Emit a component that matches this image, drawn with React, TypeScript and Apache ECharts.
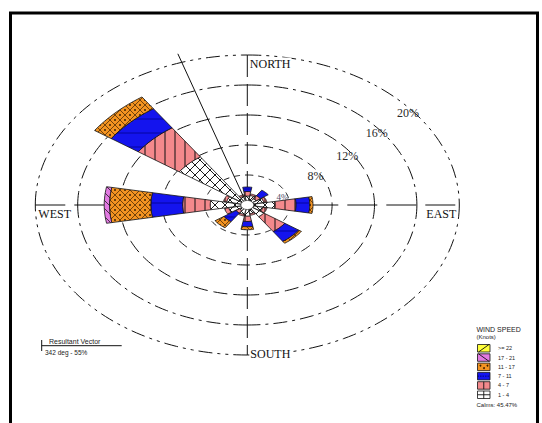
import React, { useEffect, useRef } from "react";
import * as echarts from "echarts";

// ---------- data ----------
const DIRECTIONS = ["N", "NNE", "NE", "ENE", "E", "ESE", "SE", "SSE", "S", "SSW", "SW", "WSW", "W", "WNW", "NW", "NNW"];
const SPEED_CLASSES = ["1 - 4", "4 - 7", "7 - 11", "11 - 17", "17 - 21", ">= 22"];
//                   N    NNE  NE   ENE  E    ESE  SE   SSE  S    SSW  SW   WSW  W    WNW  NW   NNW
const FREQ_1_4   = [1.2, 1.3, 1.0, 1.6, 2.6, 1.5, 1.9, 1.2, 1.5, 1.3, 0.9, 1.8, 3.5, 2.0, 7.8, 1.2];
const FREQ_4_7   = [0.6, 0.2, 0.5, 0.3, 2.0, 0.4, 2.4, 0.2, 0.7, 0.2, 0.4, 0.4, 2.6, 0.3, 4.7, 0.2];
const FREQ_7_11  = [0.6, 0.0, 0.9, 0.0, 1.3, 0.0, 1.6, 0.0, 0.7, 0.0, 1.4, 0.0, 3.0, 0.0, 3.1, 0.0];
const FREQ_11_17 = [0.0, 0.0, 0.0, 0.0, 0.3, 0.0, 0.3, 0.0, 0.4, 0.0, 1.0, 0.0, 3.9, 0.0, 1.9, 0.0];
const FREQ_17_21 = [0.0, 0.0, 0.0, 0.0, 0.0, 0.0, 0.0, 0.0, 0.0, 0.0, 0.0, 0.0, 0.5, 0.0, 0.0, 0.0];
const FREQ_22    = [0.0, 0.0, 0.0, 0.0, 0.0, 0.0, 0.0, 0.0, 0.0, 0.0, 0.0, 0.0, 0.0, 0.0, 0.0, 0.0];
const RING_VALUES = [4, 8, 12, 16, 20];
const RING_LABELS = ["4%", "8%", "12%", "16%", "20%"];
const COMPASS_LABELS = ["NORTH", "EAST", "SOUTH", "WEST"];
const LEGEND_TITLE = "WIND SPEED";
const LEGEND_UNITS = "(Knots)";
const CALMS_PCT = 45.47;
const RESULTANT_DEG = 342;
const RESULTANT_PCT = 55;

// ---------- styling ----------
const COLORS = ["#FFFFFF", "#F4898C", "#1414EE", "#F39422", "#E27AE2", "#FFFF3A"];
const HALF = 10.4;
const DEG = Math.PI / 180;
const SERIF = '"Liberation Serif", "Times New Roman", serif';
const SANS = '"Liberation Sans", Arial, sans-serif';

function P(api: any, r: number, deg: number) {
  return api.coord([r * Math.sin(deg * DEG), r * Math.cos(deg * DEG)]);
}

function makeTile(w: number, h: number, bg: string, draw: (g: CanvasRenderingContext2D, w: number, h: number) => void) {
  const c = document.createElement("canvas");
  c.width = w;
  c.height = h;
  const g = c.getContext("2d") as CanvasRenderingContext2D;
  g.fillStyle = bg;
  g.fillRect(0, 0, w, h);
  draw(g, w, h);
  return { image: c.toDataURL("image/png"), repeat: "repeat", imageWidth: w, imageHeight: h };
}

function diag(g: CanvasRenderingContext2D, w: number, h: number, up: boolean) {
  for (const off of [-w, 0, w]) {
    g.beginPath();
    if (up) {
      g.moveTo(off - 1, h + 1);
      g.lineTo(off + w + 1, -1);
    } else {
      g.moveTo(off - 1, -1);
      g.lineTo(off + w + 1, h + 1);
    }
    g.stroke();
  }
}

function makePatterns() {
  const white = makeTile(10, 10, COLORS[0], (g, w, h) => {
    g.strokeStyle = "#000";
    g.lineWidth = 0.9;
    diag(g, w, h, true);
    diag(g, w, h, false);
  });
  const pink = makeTile(10, 10, COLORS[1], (g, w, h) => {
    g.strokeStyle = "#111";
    g.lineWidth = 1;
    g.beginPath();
    g.moveTo(5, -1);
    g.lineTo(5, h + 1);
    g.stroke();
  });
  const blue = makeTile(14, 14, COLORS[2], (g, w) => {
    g.strokeStyle = "#00008a";
    g.lineWidth = 0.8;
    g.beginPath();
    g.moveTo(-1, 7);
    g.lineTo(w + 1, 7);
    g.stroke();
  });
  const orange = makeTile(10, 10, COLORS[3], (g, w, h) => {
    g.strokeStyle = "#3a1e00";
    g.lineWidth = 0.7;
    diag(g, w, h, true);
    diag(g, w, h, false);
    g.fillStyle = "#2a1500";
    for (const [x, y] of [[5, 0], [5, 10], [0, 5], [10, 5]]) {
      g.beginPath();
      g.arc(x, y, 0.9, 0, Math.PI * 2);
      g.fill();
    }
  });
  const violet = makeTile(8, 8, COLORS[4], (g, w, h) => {
    g.strokeStyle = "#222";
    g.lineWidth = 0.8;
    diag(g, w, h, false);
  });
  const yellow = makeTile(8, 8, COLORS[5], (g, w, h) => {
    g.strokeStyle = "#222";
    g.lineWidth = 0.8;
    diag(g, w, h, true);
  });
  return [white, pink, blue, orange, violet, yellow];
}

export default function App() {
  const ref = useRef<HTMLDivElement>(null);

  useEffect(() => {
    if (!ref.current) return;
    const chart = echarts.init(ref.current, null, { renderer: "svg" });
    const patterns = makePatterns();
    const classData = [FREQ_1_4, FREQ_4_7, FREQ_7_11, FREQ_11_17, FREQ_17_21, FREQ_22];
    const step = 360 / DIRECTIONS.length;

    const cum = DIRECTIONS.map(() => 0);
    const petalSeries = classData.map((arr, k) => {
      const data = arr.map((v, i) => {
        const s = cum[i];
        cum[i] += v;
        return [i, s, s + v];
      });
      return {
        type: "custom",
        name: SPEED_CLASSES[k],
        silent: true,
        z: 3,
        data,
        renderItem: (params: any, api: any) => {
          const dir = api.value(0);
          const r0 = api.value(1);
          const r1 = api.value(2);
          if (!(r1 - r0 > 0.0001)) return;
          const b = dir * step;
          const pts: number[][] = [];
          const N = 12;
          for (let j = 0; j <= N; j++) pts.push(P(api, r1, b - HALF + (2 * HALF * j) / N));
          if (r0 > 0) {
            for (let j = N; j >= 0; j--) pts.push(P(api, r0, b - HALF + (2 * HALF * j) / N));
          } else {
            pts.push(P(api, 0, 0));
          }
          return {
            type: "polygon",
            shape: { points: pts },
            style: { fill: patterns[k], stroke: "#111", lineWidth: 0.8 },
          };
        },
      };
    });

    const RING_DASH = [[6, 5], [10, 6], [14, 6], [14, 5, 3, 5], [14, 5, 3, 5, 3, 5]];
    const LABEL_BEARING = [72, 59, 55, 52, 51];

    const ringSeries = {
      type: "custom",
      silent: true,
      z: 1,
      data: RING_VALUES.map((v) => [v]),
      renderItem: (params: any, api: any) => {
        const r = api.value(0);
        const idx = params.dataIndex;
        const children: any[] = [];
        for (let q = 0; q < 4; q++) {
          const pts: number[][] = [];
          for (let j = 0; j <= 60; j++) pts.push(P(api, r, q * 90 + (90 * j) / 60));
          children.push({
            type: "polyline",
            shape: { points: pts },
            style: { stroke: "#111", lineWidth: 1, lineDash: RING_DASH[idx], fill: null },
          });
        }
        return { type: "group", children };
      },
    };

    const ringLabelSeries = {
      type: "custom",
      silent: true,
      z: 6,
      data: RING_VALUES.map((v) => [v]),
      renderItem: (params: any, api: any) => {
        const r = api.value(0);
        const idx = params.dataIndex;
        const p = P(api, r - 0.5, LABEL_BEARING[idx]);
        const small = idx === 0;
        return {
          type: "text",
          x: p[0],
          y: p[1],
          style: {
            text: RING_LABELS[idx],
            font: (small ? "9px " : "12px ") + SERIF,
            fill: small ? "#4a4a66" : "#2a2a2a",
            align: "center",
            verticalAlign: "middle",
            textAlign: "center",
            textVerticalAlign: "middle",
          },
        };
      },
    };

    const axesSeries = {
      type: "custom",
      silent: true,
      z: 2,
      data: [[RING_VALUES[RING_VALUES.length - 1]]],
      renderItem: (params: any, api: any) => {
        const R = api.value(0);
        const w = api.coord([-R, 0]);
        const e = api.coord([R, 0]);
        const n = api.coord([0, R]);
        const s = api.coord([0, -R]);
        return {
          type: "group",
          children: [
            { type: "line", shape: { x1: w[0], y1: w[1], x2: e[0], y2: e[1] }, style: { stroke: "#111", lineWidth: 1, lineDash: [30, 9] } },
            { type: "line", shape: { x1: n[0], y1: n[1], x2: s[0], y2: s[1] }, style: { stroke: "#111", lineWidth: 1, lineDash: [22, 7] } },
          ],
        };
      },
    };

    const compassSeries = {
      type: "custom",
      silent: true,
      z: 7,
      data: [[RING_VALUES[RING_VALUES.length - 1]]],
      renderItem: (params: any, api: any) => {
        const R = api.value(0);
        const w = api.coord([-R, 0]);
        const e = api.coord([R, 0]);
        const n = api.coord([0, R]);
        const s = api.coord([0, -R]);
        const mk = (text: string, x: number, y: number, align: string) => ({
          type: "text",
          x,
          y,
          style: {
            text,
            font: "12px " + SERIF,
            fill: "#111",
            align,
            verticalAlign: "middle",
            textAlign: align,
            textVerticalAlign: "middle",
            backgroundColor: "#fff",
            padding: [0, 1],
          },
        });
        return {
          type: "group",
          children: [
            mk(COMPASS_LABELS[0], n[0] + 1.5, n[1] + 8.5, "left"),
            mk(COMPASS_LABELS[1], e[0] - 2, e[1] + 9, "right"),
            mk(COMPASS_LABELS[2], s[0] + 2, s[1] - 1, "left"),
            mk(COMPASS_LABELS[3], w[0] + 2, w[1] + 8.5, "left"),
          ],
        };
      },
    };

    const centerSeries = {
      type: "custom",
      silent: true,
      z: 5,
      data: [[0.6]],
      renderItem: (params: any, api: any) => {
        const r = api.value(0);
        const pts: number[][] = [];
        for (let j = 0; j < 36; j++) pts.push(P(api, r, j * 10));
        return { type: "polygon", shape: { points: pts }, style: { fill: "#fff", stroke: "#222", lineWidth: 0.6 } };
      },
    };

    const resultantSeries = {
      type: "custom",
      silent: true,
      z: 4,
      data: [[RESULTANT_DEG]],
      renderItem: (params: any, api: any) => {
        const b = api.value(0);
        const a = P(api, 0, b);
        const t = P(api, 21.2, b);
        return { type: "line", shape: { x1: a[0], y1: a[1], x2: t[0], y2: t[1] }, style: { stroke: "#111", lineWidth: 1 } };
      },
    };

    // legend (graphic)
    const graphic: any[] = [];
    graphic.push({
      type: "rect",
      shape: { x: 10.5, y: 13, width: 527, height: 430 },
      style: { fill: "none", stroke: "#000", lineWidth: 3 },
      silent: true,
    });
    const LX = 477.5, LY0 = 344.5, LDY = 9.3, BW = 12.5, BH = 7.5;
    graphic.push({ type: "text", x: LX - 1, y: 329, style: { text: LEGEND_TITLE, font: "7px " + SANS, fill: "#222", verticalAlign: "middle", textVerticalAlign: "middle" } });
    graphic.push({ type: "text", x: LX - 1, y: 336.5, style: { text: LEGEND_UNITS, font: "6px " + SANS, fill: "#222", verticalAlign: "middle", textVerticalAlign: "middle" } });
    const order = [5, 4, 3, 2, 1, 0];
    order.forEach((k, row) => {
      const y = LY0 + row * LDY;
      graphic.push({ type: "rect", shape: { x: LX, y, width: BW, height: BH }, style: { fill: COLORS[k], stroke: "#111", lineWidth: 0.8 } });
      const ln = (x1: number, y1: number, x2: number, y2: number, c = "#111", dash?: number[]) =>
        graphic.push({ type: "line", shape: { x1, y1, x2, y2 }, style: { stroke: c, lineWidth: 0.9, lineDash: dash } });
      if (k === 5) ln(LX + 1, y + BH, LX + BW - 1, y);
      if (k === 4) ln(LX + 1, y, LX + BW - 1, y + BH);
      if (k === 3) {
        for (const [dx, dy] of [[3, 2.5], [6.5, 5], [10, 2.5]]) {
          graphic.push({ type: "circle", shape: { cx: LX + dx, cy: y + dy, r: 0.9 }, style: { fill: "#3a1e00" } });
        }
      }
      if (k === 2) ln(LX, y + BH / 2, LX + BW, y + BH / 2, "#00006a", [1.5, 1]);
      if (k === 1) ln(LX + BW / 2, y, LX + BW / 2, y + BH);
      if (k === 0) {
        ln(LX, y + BH / 2, LX + BW, y + BH / 2);
        ln(LX + BW / 2, y, LX + BW / 2, y + BH);
      }
      graphic.push({
        type: "text",
        x: 498,
        y: y + BH / 2,
        style: { text: SPEED_CLASSES[k], font: "5.5px " + SANS, fill: "#222", verticalAlign: "middle", textVerticalAlign: "middle" },
      });
    });
    graphic.push({
      type: "text",
      x: LX - 1,
      y: 404.5,
      style: { text: "Calms: " + CALMS_PCT.toFixed(2) + "%", font: "6px " + SANS, fill: "#222", verticalAlign: "middle", textVerticalAlign: "middle" },
    });

    // resultant vector legend
    graphic.push({ type: "line", shape: { x1: 41.7, y1: 340, x2: 41.7, y2: 351 }, style: { stroke: "#111", lineWidth: 1 } });
    graphic.push({ type: "line", shape: { x1: 41.7, y1: 345.7, x2: 121.7, y2: 345.7 }, style: { stroke: "#111", lineWidth: 1 } });
    graphic.push({ type: "text", x: 49, y: 341.3, style: { text: "Resultant Vector", font: "7px " + SANS, fill: "#222", verticalAlign: "middle", textVerticalAlign: "middle" } });
    graphic.push({
      type: "text",
      x: 45,
      y: 352.5,
      style: { text: RESULTANT_DEG + " deg - " + RESULTANT_PCT + "%", font: "6.5px " + SANS, fill: "#222", verticalAlign: "middle", textVerticalAlign: "middle" },
    });

    const option: any = {
      animation: false,
      backgroundColor: "#fff",
      grid: { left: 35.3, top: 55, width: 424, height: 300, show: false },
      xAxis: { type: "value", min: -20, max: 20, show: false },
      yAxis: { type: "value", min: -20, max: 20, show: false },
      series: [axesSeries, ringSeries, ...petalSeries, resultantSeries, centerSeries, ringLabelSeries, compassSeries],
      graphic,
    };
    chart.setOption(option);
    return () => chart.dispose();
  }, []);

  return (
    <div
      ref={ref}
      style={{ position: "absolute", left: 0, top: 0, width: 542, height: 423, background: "#fff" }}
    />
  );
}
